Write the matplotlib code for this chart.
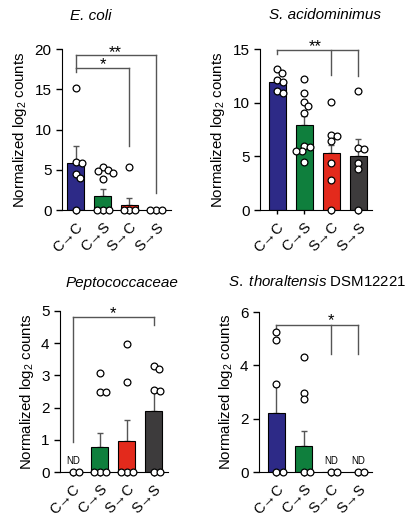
import matplotlib
matplotlib.use('Agg')
import matplotlib.pyplot as plt
import numpy as np

plt.rcParams['font.family'] = ['Liberation Sans', 'DejaVu Sans']
plt.rcParams['font.size'] = 8
plt.rcParams['mathtext.fontset'] = 'custom'
plt.rcParams['mathtext.rm'] = 'Liberation Sans'
plt.rcParams['mathtext.it'] = 'Liberation Sans:italic'
plt.rcParams['mathtext.default'] = 'regular'

groups = ['C→C', 'C→S', 'S→C', 'S→S']
colors = ['#2d2a87', '#0f7f3d', '#e32a1c', '#3d3b3c']

# E. coli
ecoli_mean = [5.8, 1.8, 0.65, 0.0]
ecoli_sem = [2.1, 0.8, 0.9, 0.0]
ecoli_pts = [[15.2, 6.0, 5.9, 4.5, 4.0, 0.0],
             [5.4, 5.0, 4.9, 4.6, 3.9, 0.0, 0.0, 0.0],
             [5.3, 0.0, 0.0, 0.0],
             [0.0, 0.0, 0.0]]

# S. acidominimus
sacid_mean = [11.9, 7.9, 5.3, 5.05]
sacid_sem = [0.4, 0.9, 0.8, 1.55]
sacid_pts = [[13.1, 12.8, 12.1, 11.9, 11.1, 10.9],
             [12.2, 10.9, 10.1, 9.7, 9.0, 6.0, 5.9, 5.5, 5.5, 4.5],
             [10.1, 7.0, 6.85, 6.4, 4.4, 2.8, 0.0],
             [11.1, 5.8, 5.7, 4.4, 3.8, 0.0]]

# Peptococcaceae
pepto_mean = [0.0, 0.79, 0.95, 1.9]
pepto_sem = [0.0, 0.42, 0.65, 0.65]
pepto_pts = [[0.0, 0.0],
             [3.07, 2.5, 2.48, 0.0, 0.0, 0.0],
             [3.97, 2.8, 0.0, 0.0, 0.0],
             [3.3, 3.2, 2.56, 2.52, 0.0, 0.0]]

# S. thoraltensis
thor_mean = [2.22, 0.97, 0.0, 0.0]
thor_sem = [1.0, 0.55, 0.0, 0.0]
thor_pts = [[5.25, 4.95, 3.3, 0.0, 0.0],
            [4.3, 2.97, 2.72, 0.0, 0.0],
            [0.0, 0.0],
            [0.0, 0.0]]


def swarm(vals, ypx, xpx, d=5.8):
    # greedy beeswarm, offsets returned in data units
    placed = []
    offs = []
    for v in vals:
        y = v * ypx
        best = 0
        for step in np.arange(0, 30, 0.5):
            ok = None
            for x in ([step] if step == 0 else [step, -step]):
                if all((x - px) ** 2 + (y - py) ** 2 >= d ** 2 for px, py in placed):
                    ok = x
                    break
            if ok is not None:
                best = ok
                break
        placed.append((best, y))
        offs.append(best / xpx)
    return offs


def panel(rect, mean, sem, pts, ymax, yticks, xlim, nd=()):
    ax = fig.add_axes(rect)
    x = np.arange(len(groups))
    ax.bar(x, mean, width=0.63, color=colors, edgecolor='black', linewidth=0.8, zorder=2)
    for i in range(len(groups)):
        if sem[i] > 0:
            ax.errorbar(x[i], mean[i], yerr=[[0], [sem[i]]], color='#555555',
                        lw=1, capsize=2, capthick=1, zorder=1)
    hpx = rect[3] * 518
    ypx = hpx / ymax
    for i, p in enumerate(pts):
        offs = swarm(p, ypx, 27)
        ax.scatter(x[i] + np.array(offs), p, s=24, facecolor='white',
                   edgecolor='black', linewidth=0.9, zorder=3, clip_on=False)
    for i in nd:
        ax.text(x[i], ymax * 0.035, 'ND', ha='center', va='bottom', fontsize=7)
    ax.set_ylim(0, ymax)
    ax.set_xlim(*xlim)
    ax.set_yticks(yticks)
    ax.set_xticks(x)
    ax.set_xticklabels(groups, rotation=45, ha='right', rotation_mode='anchor', fontsize=10.5)
    ax.spines['top'].set_visible(False)
    ax.spines['right'].set_visible(False)
    ax.tick_params(axis='y', length=4, width=1, labelsize=11)
    ax.tick_params(axis='x', length=3, width=1, pad=4)
    ax.set_ylabel('Normalized log$_2$ counts', fontsize=10.8, labelpad=4)
    return ax


def bracket(ax, y, x0, drops, y0):
    kw = dict(color='#555555', lw=1, clip_on=False)
    ax.plot([x0, x0], [y0, y], **kw)
    ax.plot([x0, max(d[0] for d in drops)], [y, y], **kw)
    for xd, yd in drops:
        ax.plot([xd, xd], [y, yd], **kw)


fig = plt.figure(figsize=(4.14, 5.18), dpi=100)

ax1 = panel([62 / 414, 1 - 210 / 518, 109 / 414, 161 / 518], ecoli_mean, ecoli_sem,
            ecoli_pts, 20, [0, 5, 10, 15, 20], (-0.52, 3.55))
bracket(ax1, 17.7, 0, [(2, 7.9)], 17.2)
bracket(ax1, 19.25, 0, [(3, 2.15)], 17.7)
ax1.text(1.0, 18.0, '*', ha='center', va='center', fontsize=12)
ax1.text(1.45, 19.6, '**', ha='center', va='center', fontsize=12)
ax1.text(0.26, 1.205, 'E. coli', transform=ax1.transAxes, ha='center', va='center',
         fontsize=11, style='italic')

ax2 = panel([260 / 414, 1 - 210 / 518, 112 / 414, 161 / 518], sacid_mean, sacid_sem,
            sacid_pts, 15, [0, 5, 10, 15], (-0.63, 3.5))
bracket(ax2, 14.9, 0, [(2, 12.6), (3, 12.5)], 14.5)
ax2.text(1.4, 15.2, '**', ha='center', va='center', fontsize=12)
ax2.text(0.58, 1.21, 'S. acidominimus', transform=ax2.transAxes, ha='center', va='center',
         fontsize=11, style='italic')

ax3 = panel([60 / 414, 1 - 472 / 518, 108 / 414, 161 / 518], pepto_mean, pepto_sem,
            pepto_pts, 5, [0, 1, 2, 3, 4, 5], (-0.48, 3.52), nd=(0,))
bracket(ax3, 4.81, 0, [(3, 4.55)], 0.93)
ax3.text(1.5, 4.93, '*', ha='center', va='center', fontsize=12)
ax3.text(0.57, 1.174, 'Peptococcaceae', transform=ax3.transAxes, ha='center', va='center',
         fontsize=11, style='italic')

ax4 = panel([259 / 414, 1 - 472 / 518, 113 / 414, 160 / 518], thor_mean, thor_sem,
            thor_pts, 6, [0, 2, 4, 6], (-0.64, 3.5), nd=(2, 3))
bracket(ax4, 5.52, 0, [(2, 4.42), (3, 4.42)], 5.4)
ax4.text(2.0, 5.66, '*', ha='center', va='center', fontsize=12)
ax4.text(0.51, 1.19, r'$\it{S.\ thoraltensis}$ DSM12221', transform=ax4.transAxes,
         ha='center', va='center', fontsize=10.8)

fig.savefig('out.png', dpi=100)
